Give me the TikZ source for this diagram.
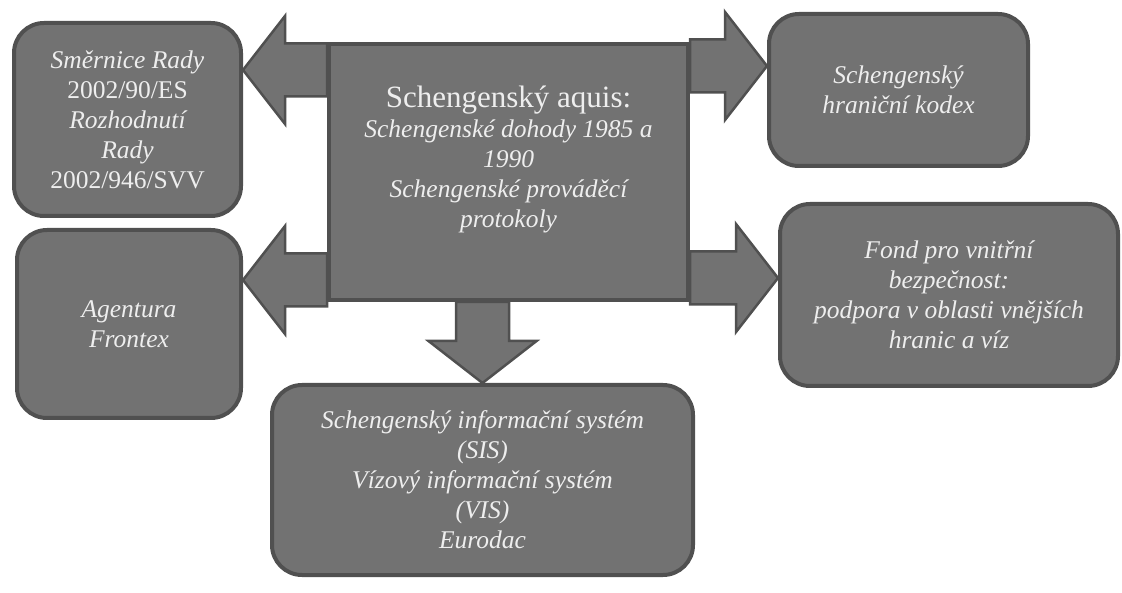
\documentclass[tikz,border=0pt]{standalone}
\usepackage{fontspec}
\setmainfont{Liberation Serif}
\usetikzlibrary{calc,backgrounds}
\definecolor{boxgray}{RGB}{114,114,114}
\definecolor{edgegray}{RGB}{80,80,80}
\definecolor{textgray}{RGB}{238,238,238}
\newcommand{\shaftw}{26.5pt}
\newcommand{\headw}{54pt}
\newcommand{\headl}{42pt}
\tikzset{
box/.style={draw=edgegray,line width=4pt,fill=boxgray,rounded corners=30pt,text=textgray,align=center,font=\fontsize{25.5}{30}\selectfont\itshape},
blockarrow/.style={draw=edgegray,line width=2.5pt,fill=boxgray,line join=miter,
 to path={($(\tikztostart)!\shaftw!90:(\tikztotarget)$)
 -- ($($(\tikztotarget)!\headl!(\tikztostart)$)!\shaftw!-90:(\tikztostart)$)
 -- ($($(\tikztotarget)!\headl!(\tikztostart)$)!\headw!-90:(\tikztostart)$)
 -- (\tikztotarget)
 -- ($($(\tikztotarget)!\headl!(\tikztostart)$)!\headw!90:(\tikztostart)$)
 -- ($($(\tikztotarget)!\headl!(\tikztostart)$)!\shaftw!90:(\tikztostart)$)
 -- ($(\tikztostart)!\shaftw!-90:(\tikztotarget)$) -- cycle}}
}
\begin{document}
\begin{tikzpicture}[x=1pt,y=1pt]
\useasboundingbox (0,0) rectangle (1122,-593);
\node[box,sharp corners,minimum width=359pt,minimum height=256pt,text depth=30pt](aquis) at (508.5,-172){{\fontsize{31}{34}\selectfont\upshape Schengenský aquis:}\\Schengenské dohody 1985 a\\1990\\Schengenské prováděcí\\protokoly};
\node[box,minimum width=227pt,minimum height=193pt](smernice) at (127.5,-119.5){Směrnice Rady\\{\upshape 2002/90/ES}\\Rozhodnutí\\Rady\\{\upshape 2002/946/SVV}};
\node[box,minimum width=224pt,minimum height=188pt](frontex) at (129,-324){Agentura\\Frontex};
\node[box,minimum width=259pt,minimum height=152pt](kodex) at (898.5,-90){Schengenský\\hraniční kodex};
\node[box,minimum width=338pt,minimum height=182pt](fond) at (949,-295){Fond pro vnitřní\\bezpečnost:\\podpora v oblasti vnějších\\hranic a víz};
\node[box,minimum width=421pt,minimum height=190pt](sis) at (482.5,-480){Schengenský informační systém\\(SIS)\\Vízový informační systém\\(VIS)\\Eurodac};
% arrow tips on the outer boxes
\coordinate (t1) at (smernice.east |- 0,-70);
\coordinate (t2) at (frontex.east |- 0,-280);
\coordinate (t3) at (kodex.west |- 0,-66);
\coordinate (t4) at (fond.west |- 0,-278);
\begin{scope}[on background layer]
\draw[blockarrow] (aquis.west |- t1) to (t1);
\draw[blockarrow] (aquis.west |- t2) to (t2);
\draw[blockarrow] (aquis.east |- t3) to (t3);
\draw[blockarrow] (aquis.east |- t4) to (t4);
\draw[blockarrow] (aquis.south -| sis.north) to (sis.north);
\end{scope}
\end{tikzpicture}
\end{document}
